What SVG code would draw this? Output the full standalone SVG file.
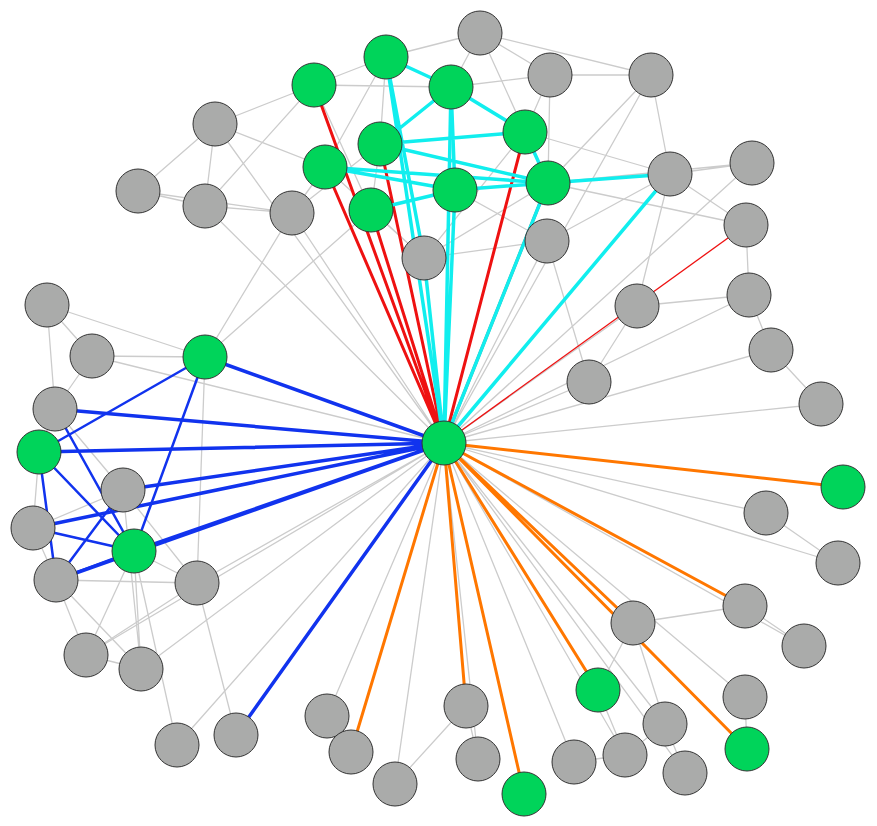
<svg xmlns="http://www.w3.org/2000/svg" width="877" height="826" viewBox="0 0 877 826">
<style>
.g{stroke:#cccccc;stroke-width:1.3;fill:none}
.r{stroke:#ee1111;stroke-width:3;fill:none}
.c{stroke:#11eeee;stroke-width:3.5;fill:none}
.b{stroke:#1133ee;stroke-width:3.5;fill:none}
.o{stroke:#ff7700;stroke-width:3;fill:none}
.ng circle{fill:#00d45a;stroke:#333;stroke-width:1}
.na circle{fill:#aaabaa;stroke:#333;stroke-width:1}
</style>
<rect width="877" height="826" fill="#fff"/>
<g id="edges">
<path class="g" d="M444,443L215,124M444,443L292,213M444,443L205,206M444,443L424,258M444,443L547,241M444,443L637,306M444,443L749,295M444,443L589,382M444,443L821,404M444,443L771,350M444,443L766,513M444,443L838,563M444,443L804,646M444,443L745,697M444,443L685,773M444,443L665,724M444,443L625,755M444,443L574,762M444,443L478,759M444,443L395,784M444,443L327,716M444,443L177,745M444,443L197,583M444,443L141,669M444,443L86,655M444,443L92,356M444,443L651,75M444,443L752,163"/>
<path class="g" d="M215,124L138,191M215,124L205,206M215,124L314,85M215,124L325,167M138,191L205,206M205,206L292,213M138,191L292,213M205,206L314,85M292,213L380,144M292,213L325,167M292,213L205,357M480,33L386,57M480,33L451,87M480,33L550,75M480,33L525,132M480,33L651,75M550,75L651,75M550,75L525,132M550,75L548,183M550,75L451,87M651,75L670,174M651,75L548,183M670,174L752,163M670,174L547,241M670,174L746,225M752,163L548,183M746,225L749,295M749,295L771,350M749,295L637,306M637,306L589,382M637,306L670,174M771,350L821,404M547,241L589,382M547,241L424,258M424,258L371,210M424,258L325,167M386,57L314,85M386,57L380,144M386,57L325,167M451,87L314,85M451,87L380,144M525,132L380,144M525,132L424,258M548,183L325,167M548,183L424,258M455,190L325,167M455,190L547,241M380,144L371,210M314,85L371,210M525,132L670,174M548,183L746,225M205,357L371,210M205,357L92,356"/>
<path class="g" d="M47,305L55,409M47,305L92,356M47,305L205,357M92,356L55,409M55,409L123,490M55,409L39,452M39,452L33,528M123,490L33,528M123,490L197,583M33,528L56,580M56,580L86,655M56,580L141,669M134,551L86,655M134,551L141,669M134,551L177,745M134,551L197,583M197,583L86,655M197,583L236,735M205,357L197,583M86,655L141,669M123,490L141,669M56,580L197,583M33,528L134,551"/>
<path class="g" d="M466,706L478,759M466,706L395,784M327,716L351,752M574,762L625,755M625,755L665,724M665,724L685,773M633,623L745,606M633,623L665,724M745,606L804,646M745,697L747,749M598,690L625,755M766,513L838,563M633,623L598,690"/>
<path class="r" d="M444,443L314,85M444,443L325,167M444,443L371,210M444,443L380,144M444,443L525,132M444,443L548,183"/>
<path class="r" d="M444,443L746,225" style="stroke-width:1.3"/>
<path class="c" d="M444,443L386,57M444,443L451,87M444,443L455,190M444,443L424,258M444,443L548,183M444,443L670,174"/>
<path class="c" d="M386,57L451,87M451,87L525,132M380,144L525,132M325,167L548,183M380,144L451,87M325,167L455,190M455,190L548,183M548,183L670,174M451,87L455,190M525,132L548,183M386,57L424,258M371,210L455,190M380,144L548,183"/>
<path class="b" d="M444,443L205,357M444,443L55,409M444,443L39,452M444,443L123,490M444,443L33,528M444,443L134,551M444,443L56,580M444,443L236,735"/>
<path class="b" d="M205,357L39,452M205,357L134,551M39,452L134,551M55,409L134,551M39,452L56,580M56,580L134,551M33,528L134,551M123,490L56,580" style="stroke-width:2.5"/>
<path class="o" d="M444,443L843,487M444,443L745,606M444,443L633,623M444,443L598,690M444,443L747,749M444,443L524,794M444,443L466,706M444,443L351,752"/>
</g>
<g id="n1" class="ng"><circle cx="314" cy="85" r="22"/></g>
<g id="n2" class="ng"><circle cx="386" cy="57" r="22"/></g>
<g id="n3" class="ng"><circle cx="451" cy="87" r="22"/></g>
<g id="n4" class="na"><circle cx="480" cy="33" r="22"/></g>
<g id="n5" class="na"><circle cx="550" cy="75" r="22"/></g>
<g id="n6" class="na"><circle cx="651" cy="75" r="22"/></g>
<g id="n7" class="ng"><circle cx="525" cy="132" r="22"/></g>
<g id="n8" class="ng"><circle cx="380" cy="144" r="22"/></g>
<g id="n9" class="ng"><circle cx="325" cy="167" r="22"/></g>
<g id="n10" class="ng"><circle cx="455" cy="190" r="22"/></g>
<g id="n11" class="ng"><circle cx="548" cy="183" r="22"/></g>
<g id="n12" class="ng"><circle cx="371" cy="210" r="22"/></g>
<g id="n13" class="na"><circle cx="670" cy="174" r="22"/></g>
<g id="n14" class="na"><circle cx="752" cy="163" r="22"/></g>
<g id="n15" class="na"><circle cx="215" cy="124" r="22"/></g>
<g id="n16" class="na"><circle cx="138" cy="191" r="22"/></g>
<g id="n17" class="na"><circle cx="205" cy="206" r="22"/></g>
<g id="n18" class="na"><circle cx="292" cy="213" r="22"/></g>
<g id="n19" class="na"><circle cx="424" cy="258" r="22"/></g>
<g id="n20" class="na"><circle cx="547" cy="241" r="22"/></g>
<g id="n21" class="na"><circle cx="746" cy="225" r="22"/></g>
<g id="n22" class="na"><circle cx="637" cy="306" r="22"/></g>
<g id="n23" class="na"><circle cx="749" cy="295" r="22"/></g>
<g id="n24" class="na"><circle cx="771" cy="350" r="22"/></g>
<g id="n25" class="na"><circle cx="589" cy="382" r="22"/></g>
<g id="n26" class="na"><circle cx="821" cy="404" r="22"/></g>
<g id="hub" class="ng"><circle cx="444" cy="443" r="22"/></g>
<g id="n27" class="na"><circle cx="47" cy="305" r="22"/></g>
<g id="n28" class="na"><circle cx="92" cy="356" r="22"/></g>
<g id="n29" class="ng"><circle cx="205" cy="357" r="22"/></g>
<g id="n30" class="na"><circle cx="55" cy="409" r="22"/></g>
<g id="n31" class="ng"><circle cx="39" cy="452" r="22"/></g>
<g id="n32" class="na"><circle cx="123" cy="490" r="22"/></g>
<g id="n33" class="na"><circle cx="33" cy="528" r="22"/></g>
<g id="n34" class="ng"><circle cx="134" cy="551" r="22"/></g>
<g id="n35" class="na"><circle cx="56" cy="580" r="22"/></g>
<g id="n36" class="na"><circle cx="197" cy="583" r="22"/></g>
<g id="n37" class="na"><circle cx="86" cy="655" r="22"/></g>
<g id="n38" class="na"><circle cx="141" cy="669" r="22"/></g>
<g id="n39" class="na"><circle cx="177" cy="745" r="22"/></g>
<g id="n40" class="na"><circle cx="236" cy="735" r="22"/></g>
<g id="n41" class="na"><circle cx="327" cy="716" r="22"/></g>
<g id="n42" class="na"><circle cx="351" cy="752" r="22"/></g>
<g id="n43" class="na"><circle cx="395" cy="784" r="22"/></g>
<g id="n44" class="na"><circle cx="466" cy="706" r="22"/></g>
<g id="n45" class="na"><circle cx="478" cy="759" r="22"/></g>
<g id="n46" class="ng"><circle cx="524" cy="794" r="22"/></g>
<g id="n47" class="na"><circle cx="574" cy="762" r="22"/></g>
<g id="n48" class="ng"><circle cx="598" cy="690" r="22"/></g>
<g id="n49" class="na"><circle cx="625" cy="755" r="22"/></g>
<g id="n50" class="na"><circle cx="665" cy="724" r="22"/></g>
<g id="n51" class="na"><circle cx="685" cy="773" r="22"/></g>
<g id="n52" class="na"><circle cx="633" cy="623" r="22"/></g>
<g id="n53" class="na"><circle cx="745" cy="606" r="22"/></g>
<g id="n54" class="na"><circle cx="804" cy="646" r="22"/></g>
<g id="n55" class="na"><circle cx="745" cy="697" r="22"/></g>
<g id="n56" class="ng"><circle cx="747" cy="749" r="22"/></g>
<g id="n57" class="na"><circle cx="766" cy="513" r="22"/></g>
<g id="n58" class="na"><circle cx="838" cy="563" r="22"/></g>
<g id="n59" class="ng"><circle cx="843" cy="487" r="22"/></g>
</svg>
